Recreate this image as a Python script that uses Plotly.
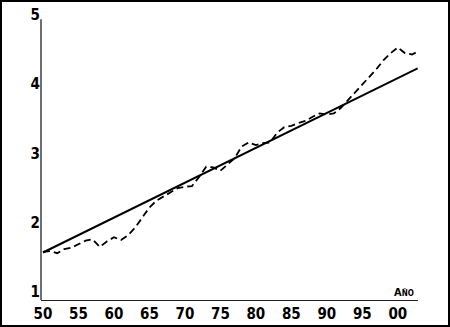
import plotly.graph_objects as go

years = list(range(1950, 2004))
values = [1.58, 1.59, 1.56, 1.62, 1.64, 1.69, 1.74, 1.76, 1.65, 1.73,
          1.79, 1.75, 1.82, 1.93, 2.08, 2.22, 2.32, 2.38, 2.44, 2.50,
          2.52, 2.53, 2.66, 2.81, 2.80, 2.75, 2.84, 2.93, 3.10, 3.16,
          3.12, 3.15, 3.16, 3.30, 3.38, 3.40, 3.44, 3.47, 3.53, 3.58,
          3.56, 3.58, 3.66, 3.77, 3.88, 3.99, 4.10, 4.22, 4.35, 4.45,
          4.53, 4.45, 4.43, 4.48]
trend_years = [1950, 2002.8]
trend_values = [1.57, 4.23]

x_tickvals = [1950, 1955, 1960, 1965, 1970, 1975, 1980, 1985, 1990, 1995, 2000]
x_ticktext = ["50", "55", "60", "65", "70", "75", "80", "85", "90", "95", "00"]
y_tickvals = [1, 2, 3, 4, 5]
y_ticktext = ["1", "2", "3", "4", "5"]

W, H = 450, 327
ml, mr, mt, mb = 41, 32, 15, 27
pw, ph = W - ml - mr, H - mt - mb
Y0, Y1 = 0.884, 5.0

FONT = "DejaVu Sans Condensed, Liberation Sans Narrow, Liberation Sans, sans-serif"
tf = dict(family=FONT, size=15, weight="bold", color="black")

fig = go.Figure()
fig.add_trace(go.Scatter(x=years, y=values, mode="lines",
                         line=dict(color="black", width=1.8, dash="7px,4px"),
                         showlegend=False))
fig.add_trace(go.Scatter(x=trend_years, y=trend_values, mode="lines",
                         line=dict(color="black", width=2),
                         showlegend=False))

fig.update_layout(
    width=W, height=H, autosize=False,
    margin=dict(l=ml, r=mr, t=mt, b=mb, pad=0, autoexpand=False),
    plot_bgcolor="white", paper_bgcolor="white",
    font=tf,
    xaxis=dict(range=[1949.72, 2002.85], tickvals=x_tickvals, ticktext=x_ticktext,
               showgrid=False, zeroline=False, showline=True, linecolor="#222",
               linewidth=1.3, ticks="", automargin=False, tickfont=tf),
    yaxis=dict(range=[Y0, Y1], tickvals=y_tickvals, ticktext=y_ticktext,
               showgrid=False, zeroline=False, showline=False, automargin=False,
               ticks="", tickfont=tf),
    shapes=[
        dict(type="rect", xref="paper", yref="paper",
             x0=(1 - ml) / pw, x1=(W - 1 - ml) / pw,
             y0=-(mb - 1) / ph, y1=(H - 1 - mb) / ph,
             line=dict(color="black", width=2), fillcolor="rgba(0,0,0,0)"),
        dict(type="line", xref="paper", yref="y", x0=0, x1=0, y0=Y0, y1=4.94,
             line=dict(color="#222", width=1.3)),
    ],
    annotations=[dict(xref="paper", yref="paper", x=(416 - ml) / pw,
                      y=(H - mb - 292) / ph,
                      xanchor="right", yanchor="middle", showarrow=False,
                      text="A<span style='font-size:8px'>ÑO</span>",
                      font=dict(family=FONT, size=11, weight="bold", color="black"))],
)

fig.write_html("out.html", config={"responsive": False})
